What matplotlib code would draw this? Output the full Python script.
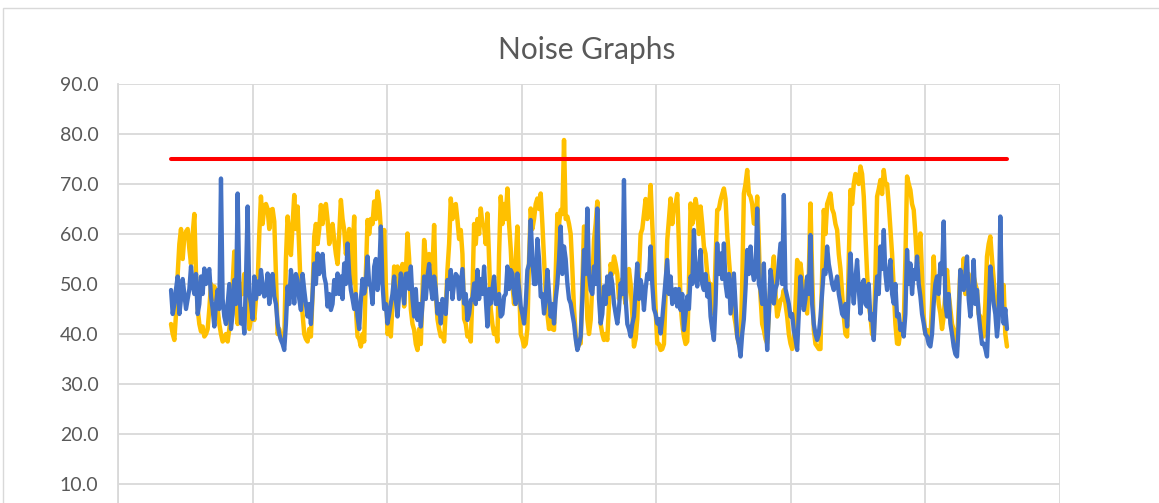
import numpy as np
import matplotlib
matplotlib.use("Agg")
import matplotlib.pyplot as plt
from matplotlib.patches import Rectangle

# ---------------- data ----------------
title = "Noise Graphs"
y_ticks = [10, 20, 30, 40, 50, 60, 70, 80, 90]
y_tick_labels = ["10.0", "20.0", "30.0", "40.0", "50.0", "60.0", "70.0", "80.0", "90.0"]
threshold = 75.0
t_start, t_end = 0.394, 6.606      # recording span (x-axis units)

# readings on a regular grid
yellow_main = [
    42, 38.8, 52, 61, 59.5, 61, 54, 64, 45, 40.5, 39.5, 41, 50, 49.5, 45, 40, 39,
    38.5, 44, 56.5, 42, 50, 52, 46, 43, 42.8, 50, 67.5, 65.5, 65, 64.8, 62.5, 40,
    39, 38.5, 63.5, 55.8, 67.8, 65.5, 48, 40, 38.5, 39.5, 59.5, 58, 65.8, 65,
    62.8, 60.8, 58.8, 54,
    66.8, 60.8, 58.1, 50, 63.5, 39.5, 37.5, 38.5, 62.8, 63, 66.5, 68.5, 61, 60.8,
    40, 39.5, 53.5, 53.5, 52, 45.5, 60.1, 45, 40.8, 36.8, 38, 58.8, 52, 50.8,
    61.8, 43, 39.5, 38.5, 52.8, 67.1, 65.5, 62.8, 60.8, 43, 39.5, 38.5, 62, 63,
    65.1, 61.5, 64.1, 45, 40, 38.5, 67.5, 66, 69.1,
    57, 46, 61.5, 40, 37.5, 41, 65.1, 63, 67.1, 68.1, 55, 44, 42.8, 40.8, 64,
    64.8, 78.8, 63.5, 60, 45, 37, 38.1, 61.5, 43, 42.8, 58.8, 66.5, 42, 38.8,
    38.8, 54, 55.5, 52, 50, 48, 50, 50, 37.5, 43, 60, 64.1, 63, 69.8, 54, 38.1,
    36.8, 38, 58.8, 67.1, 65.5, 68,
    46, 39.5, 38.5, 66.1, 63.5, 64.8, 65.5, 57.5, 52, 50, 44, 64.8, 66.8, 69.1,
    60, 50.8, 44, 39.5, 37.5, 68.1, 72.8, 67.5, 62.1, 67.5, 47.5, 40.8, 38.1,
    50.8, 55.5, 43.5, 46.8, 48.8, 43.5, 38.1, 38.1, 54.8, 54.1, 50.1, 44.1, 66.1,
    40.8, 37.5, 37, 64.8, 66, 68.1, 64.1, 60.8, 53, 43.5, 39.5,
    68.8, 70, 71.5, 73.5, 67.5, 52, 43.5, 39.5, 67.5, 70.8, 72.8, 70, 61, 49,
    38.1, 40.8, 42.1, 71.5, 68.8, 64.8, 54.1, 60.1, 43.5, 40.8, 38.8, 55.5, 50,
    44.1, 43.5, 52.8, 45, 40.8, 37.5, 52.8, 55.1, 52.1, 48.8, 51.5, 48.8, 43.5,
    39.5, 55.5, 59.5, 51, 43.5, 49.5, 49.8, 37.5,
]
# readings halfway between consecutive grid readings
yellow_between = [
    40, 44, 58, 55, 60.5, 57, 60, 52, 42, 41.5, 40, 45, 47, 47, 42, 38.5, 40, 41,
    50, 47, 45, 48, 49, 41, 45, 47, 60, 62, 66, 61, 65, 52, 41, 40, 55, 60, 62,
    61, 57, 44, 39, 41, 48, 62, 61, 62, 66, 58, 62, 56,
    60, 63, 56, 61, 56, 45, 39, 40, 52, 60, 62, 63, 66, 57, 50, 41, 46, 50, 49,
    54, 52, 55, 42, 38, 41, 48, 55, 56, 53, 48, 41, 40, 45, 58, 63, 66, 59, 56,
    42, 40, 48, 58, 60, 62, 58, 55, 42, 41, 56, 62, 63,
    62, 50, 55, 50, 39, 38, 55, 61, 66, 65, 62, 48, 41, 41, 52, 62, 64, 63, 62,
    53, 40, 38, 50, 52, 40, 50, 62, 55, 40, 40, 46, 52, 54, 47, 51, 46, 53, 44,
    39, 52, 61, 67, 65, 62, 45, 38, 37, 48, 63, 62, 66,
    58, 42, 38, 50, 62, 67, 60, 62, 56, 50, 47, 55, 65, 68, 67, 55, 46, 42, 38,
    50, 70, 68, 66, 62, 58, 42, 39, 44, 52, 48, 45, 47, 46, 40, 37, 46, 52, 51,
    47, 52, 52, 38, 37, 52, 60, 67, 65, 62, 56, 48, 40,
    55, 66, 72, 70, 72, 60, 46, 40, 52, 69, 68, 70, 66, 56, 42, 38, 41, 55, 70,
    66, 60, 58, 52, 40, 39, 46, 48, 46, 41, 48, 48, 42, 38, 45, 50, 48, 52, 47,
    50, 44, 40, 46, 58, 55, 46, 45, 44, 40,
]

blue_main = [
    48.8, 46, 51.5, 47, 48, 47, 53.5, 48, 44, 51.5, 53.1, 52, 47.5, 41.5, 48.8,
    71.1, 43.5, 46, 41, 50.8, 68.1, 42.1, 40.1, 65.5, 46.1, 51.5, 50.5, 52.8,
    47.5, 52.1, 50.1, 47.5, 42.1, 38.8, 36.8, 49.5, 52.8, 46.1, 50.8, 44.8, 48.8,
    43.5, 42, 54.1, 56.1, 54.1, 51.5, 45.5, 44.8, 50.8, 52.1,
    51.5, 54.1, 58.1, 48.8, 45, 43.5, 46.8, 48.1, 55.5, 49.5, 53.5, 48.8, 61.5,
    45, 42.1, 46.1, 51.5, 43.5, 52.1, 46.1, 52.1, 53.5, 43.5, 42.8, 41.5, 51.5,
    51.5, 49.5, 51.5, 44.1, 42.1, 46.1, 50.8, 52.8, 50.1, 51.5, 50.1, 46.1, 42.8,
    46.8, 50.1, 52.8, 51, 53.5, 41.5, 46.1, 51.5, 46.1, 43.5, 47.5, 53.5,
    52.8, 48.1, 52.1, 45.5, 42.1, 52.8, 62.8, 50, 59, 47.5, 44.1, 52.8, 43.5,
    42.1, 50.1, 61.5, 57.5, 50.1, 46.1, 42.1, 36.8, 39.5, 56.8, 65.1, 48.8, 53.5,
    65.1, 42.1, 49.5, 51.5, 52.1, 46.1, 42.1, 50.1, 70.8, 42, 39.5, 43.5, 54.1,
    50.8, 44.8, 52, 57.5, 45, 42.1, 40.1, 47, 54.8, 51.5, 48.8, 45.5,
    44.8, 40.8, 47.5, 51.5, 60.8, 49.5, 56.8, 48.8, 47.5, 43.5, 38.8, 58.1, 56.1,
    58.1, 47.5, 44.1, 52.1, 39.5, 35.5, 43, 56.8, 57.5, 50.8, 65.1, 48.8, 54.1,
    36.8, 52.8, 46.1, 50.1, 58.1, 67.8, 47.5, 43.5, 40.8, 36.8, 51.5, 44.8, 51.5,
    59.8, 42, 38.8, 43.5, 52.8, 57.5, 52.1, 48.8, 51.5, 46.1, 43.5, 41.5,
    56.1, 46.1, 54.8, 44.1, 50.8, 45.5, 42.8, 38.8, 51.5, 57.5, 60.8, 48.8, 54.8,
    46.1, 43.5, 40.8, 39.5, 56.8, 54.1, 52.8, 55.5, 47.5, 42.1, 39.5, 37.5, 46.1,
    51.5, 54.1, 62.5, 43.5, 42.1, 37.5, 35.5, 52.8, 48.8, 55.5, 43.5, 54.8, 48.8,
    40.8, 38.1, 35.5, 53.5, 46.1, 39.5, 63.5, 42.1, 41,
]
blue_between = [
    44, 49, 44, 51, 45, 49, 50, 52, 46, 48, 50, 53, 45, 46, 45, 47, 42, 50, 44,
    46, 50, 45, 51, 48, 43, 47, 48, 50, 48, 46, 52, 46, 40, 38, 42, 46, 50, 52,
    47, 52, 46, 46, 48, 50, 52, 56, 50, 48, 46, 48,
    48, 47, 50, 52, 47, 48, 41, 51, 50, 50, 46, 55, 52, 50, 46, 44, 48, 47, 48,
    49, 52, 49, 47, 49, 46, 46, 47, 54, 47, 49, 46, 47, 44, 49, 47, 52, 47, 53,
    48, 44, 47, 46, 47, 48, 47, 49, 49, 46, 48, 44, 48,
    49, 52, 46, 49, 44, 46, 54, 55, 50, 55, 48, 47, 48, 46, 47, 55, 52, 55, 47,
    44, 39, 38, 47, 52, 52, 48, 50, 47, 44, 46, 48, 50, 44, 45, 48, 47, 41, 42,
    49, 47, 49, 49, 51, 50, 44, 43, 43, 51, 48, 46, 49,
    49, 48, 44, 45, 50, 52, 53, 50, 52, 50, 41, 46, 52, 51, 50, 52, 48, 46, 38,
    40, 49, 52, 53, 52, 50, 46, 44, 44, 50, 49, 54, 50, 49, 46, 44, 39, 44, 48,
    47, 48, 46, 40, 40, 48, 52, 54, 50, 50, 48, 44, 46,
    48, 50, 51, 49, 50, 46, 50, 44, 46, 48, 53, 52, 52, 48, 50, 44, 42, 44, 50,
    48, 51, 50, 44, 40, 38, 40, 50, 48, 52, 46, 48, 40, 36, 42, 50, 52, 47, 48,
    46, 44, 38, 37, 44, 50, 44, 43, 46, 45,
]


def merge(main, between):
    out = np.empty(len(main) + len(between))
    out[0::2] = main
    out[1::2] = between
    return out


yellow = merge(yellow_main, yellow_between)
blue = merge(blue_main, blue_between)

# ---------------- figure ----------------
W, H = 1159, 503
fig = plt.figure(figsize=(W / 100, H / 100), dpi=100)
fig.patch.set_facecolor("white")

# chart-area border (top & left visible, rest cropped)
fig.add_artist(Rectangle((3 / W, -0.2), 2.0, (H - 8) / H + 0.2, transform=fig.transFigure,
                         fill=False, edgecolor="#d9d9d9", linewidth=1.0))

left_px, right_px, top_px, zero_px = 118, 1060, 84, 534
ax = fig.add_axes([left_px / W, (H - zero_px) / H,
                   (right_px - left_px) / W, (zero_px - top_px) / H])

x_y = np.linspace(t_start, t_end, len(yellow))
x_b = np.linspace(t_start, t_end, len(blue))

ax.plot(x_y, yellow, color="#ffc000", linewidth=3.2, solid_joinstyle="round",
        solid_capstyle="round", zorder=3)
ax.plot(x_b, blue, color="#4472c4", linewidth=3.1, solid_joinstyle="round",
        solid_capstyle="round", zorder=4)
ax.plot([t_start, t_end], [threshold, threshold], color="#ff0000", linewidth=2.9,
        solid_capstyle="round", zorder=5)

ax.set_xlim(0, 7)
ax.set_ylim(0, 90)
ax.set_xticks(np.arange(0, 8))
ax.set_xticklabels([])
ax.set_yticks(y_ticks)
ax.set_yticklabels(y_tick_labels, fontfamily="Lato", fontsize=14, color="#595959")
ax.tick_params(axis="both", length=0)
ax.tick_params(axis="y", pad=14)
ax.grid(True, color="#d9d9d9", linewidth=1.3, zorder=0)
ax.set_axisbelow(True)
for s in ax.spines.values():
    s.set_visible(False)
ax.spines["left"].set_visible(True)
ax.spines["left"].set_color("#d9d9d9")
ax.spines["left"].set_linewidth(1.3)

fig.text(586.5 / W, 1 - 50 / H, title, ha="center", va="center",
         fontfamily="Lato", fontsize=21.5, color="#595959")

fig.savefig("out.png", dpi=100, facecolor="white")
